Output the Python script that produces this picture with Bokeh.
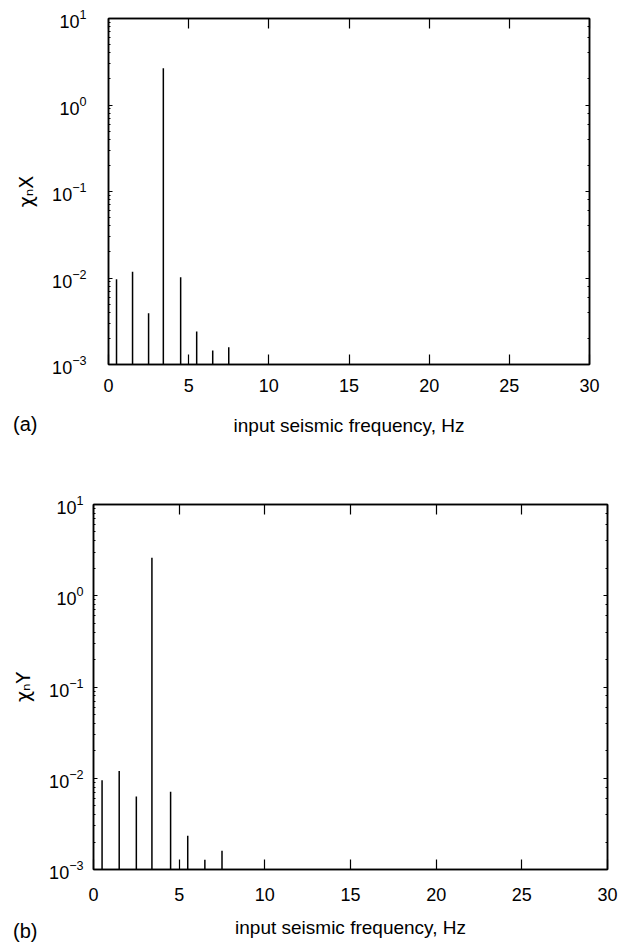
from bokeh.plotting import figure
from bokeh.models import (LogAxis, LinearAxis, FixedTicker, Range1d,
                          CustomJSTickFormatter, Div)
from bokeh.layouts import column
from bokeh.embed import file_html
from bokeh.resources import INLINE

# ---- data ----
freq_a = [0.5, 1.5, 2.5, 3.42, 4.5, 5.5, 6.5, 7.5]
chi_nx = [0.0097, 0.0118, 0.0039, 2.66, 0.0102, 0.0024, 0.00145, 0.00158]

freq_b = [0.5, 1.5, 2.5, 3.41, 4.5, 5.5, 6.5, 7.5]
chi_ny = [0.0095, 0.012, 0.0063, 2.61, 0.0071, 0.00234, 0.00128, 0.0016]

x_ticks = [0, 5, 10, 15, 20, 25, 30]
x_label = "input seismic frequency, Hz"
y_floor = 1e-3
y_top = 10

FONT = "Liberation Sans"


def blank():
    return CustomJSTickFormatter(code="return ''")


def make_fig(xs, ys, ylabel, height, mb_left, mb_right, mb_top, mb_bottom,
             y_standoff, y_lab_standoff, x_standoff, x_lab_standoff):
    p = figure(width=625, height=height, x_range=Range1d(0, 30),
               y_range=Range1d(y_floor, y_top), y_axis_type="log",
               output_backend="svg", toolbar_location=None,
               min_border_left=mb_left, min_border_right=mb_right,
               min_border_top=mb_top, min_border_bottom=mb_bottom)
    p.frame_align = False
    p.xgrid.visible = False
    p.ygrid.visible = False
    p.outline_line_color = "black"
    p.outline_line_width = 1.5

    p.segment(x0=xs, y0=[y_floor] * len(xs), x1=xs, y1=ys,
              line_color="black", line_width=1.5)

    xa = p.xaxis[0]
    xa.ticker = FixedTicker(ticks=x_ticks)
    xa.major_tick_in = 10
    xa.major_tick_out = 0
    xa.minor_tick_in = 0
    xa.minor_tick_out = 0
    xa.axis_line_width = 1.5
    xa.major_tick_line_width = 1.2
    xa.major_label_text_font = FONT
    xa.major_label_text_font_size = "18px"
    xa.major_label_text_color = "black"
    xa.major_label_standoff = x_standoff
    xa.axis_label = x_label
    xa.axis_label_text_font = FONT
    xa.axis_label_text_font_size = "19px"
    xa.axis_label_text_font_style = "normal"
    xa.axis_label_text_color = "black"
    xa.axis_label_standoff = x_lab_standoff

    ya = p.yaxis[0]
    ya.major_tick_in = 4
    ya.major_tick_out = 0
    ya.minor_tick_in = 2
    ya.minor_tick_out = 0
    ya.axis_line_width = 1.5
    ya.major_label_text_font = FONT
    ya.major_label_text_font_size = "18px"
    ya.major_label_text_color = "black"
    ya.major_label_standoff = y_standoff
    ya.axis_label = ylabel
    ya.axis_label_text_font = "DejaVu Sans"
    ya.axis_label_text_font_size = "19px"
    ya.axis_label_text_font_style = "normal"
    ya.axis_label_text_color = "black"
    ya.axis_label_standoff = y_lab_standoff

    top = LinearAxis(ticker=FixedTicker(ticks=x_ticks), formatter=blank(),
                     major_tick_in=10, major_tick_out=0, minor_tick_in=0,
                     minor_tick_out=0, major_label_standoff=0,
                     axis_line_width=1.5, major_tick_line_width=1.2)
    p.add_layout(top, "above")

    right = LogAxis(formatter=blank(), major_tick_in=4, major_tick_out=0,
                    minor_tick_in=2, minor_tick_out=0,
                    major_label_standoff=0, axis_line_width=1.5)
    p.add_layout(right, "right")
    return p


def tag_div(text, margin):
    return Div(text=text, width=40, height=24, margin=margin,
               styles={"position": "relative", "z-index": "10",
                       "font-family": FONT, "font-size": "20px",
                       "color": "black", "line-height": "24px"})


p1 = make_fig(freq_a, chi_nx, "χₙX", height=450,
              mb_left=108, mb_right=36, mb_top=18, mb_bottom=86,
              y_standoff=22, y_lab_standoff=12, x_standoff=14, x_lab_standoff=20)
p2 = make_fig(freq_b, chi_ny, "χₙY", height=490,
              mb_left=93, mb_right=18, mb_top=54, mb_bottom=65,
              y_standoff=10, y_lab_standoff=12, x_standoff=18, x_lab_standoff=13)

div_a = tag_div("(a)", (-38, 0, 14, 13))
div_b = tag_div("(b)", (-21, 0, 0, 13))

layout = column(p1, div_a, p2, div_b, spacing=0)

with open("out.html", "w") as f:
    f.write(file_html(layout, INLINE))
